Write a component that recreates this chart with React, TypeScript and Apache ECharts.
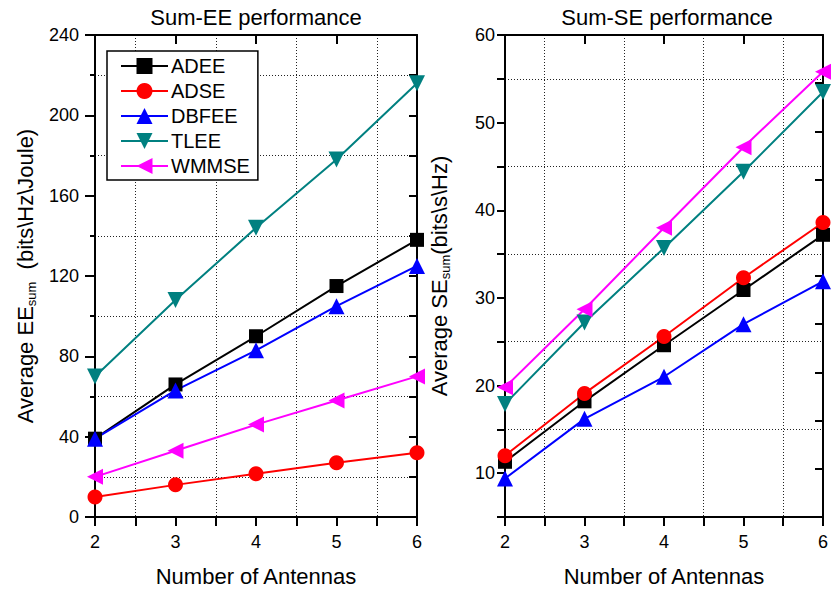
import React, { useEffect, useRef } from "react";
import * as echarts from "echarts";

const antennas = [2, 3, 4, 5, 6];
const seriesNames = ["ADEE", "ADSE", "DBFEE", "TLEE", "WMMSE"];
const seriesColors = ["#000000", "#ff0000", "#0000ff", "#008080", "#ff00ff"];
const seriesSymbols = ["rect", "circle", "triangle", "triangle", "triangle"];
const symbolRotations = [0, 0, 0, 180, 90];
const symbolSizes = [14, 15, 16, 16, 16];

const eeADEE = [39, 66, 90, 115, 138];
const eeADSE = [10, 16, 21.5, 27, 32];
const eeDBFEE = [39, 63, 83, 105, 125];
const eeTLEE = [70, 108, 144, 178, 216];
const eeWMMSE = [20, 33, 46, 58, 70];

const seADEE = [11.3, 18.2, 24.6, 30.9, 37.2];
const seADSE = [12.0, 19.1, 25.6, 32.3, 38.6];
const seDBFEE = [9.4, 16.2, 21, 27, 31.9];
const seTLEE = [17.9, 27.2, 35.7, 44.4, 53.5];
const seWMMSE = [19.8, 28.7, 38, 47.2, 55.8];

const eeTicks = [0, 40, 80, 120, 160, 200, 240];
const seTicks = [10, 20, 30, 40, 50, 60];

const FONT = "'Liberation Sans', Arial, Helvetica, sans-serif";
const GRID_DASH = [1, 2];

export default function App() {
  const ref = useRef<HTMLDivElement>(null);

  useEffect(() => {
    if (!ref.current) return;
    const chart = echarts.init(ref.current, null, { renderer: "svg" });

    const eeData = [eeADEE, eeADSE, eeDBFEE, eeTLEE, eeWMMSE];
    const seData = [seADEE, seADSE, seDBFEE, seTLEE, seWMMSE];

    const mkSeries = (vals: number[][], xi: number, yi: number) =>
      vals.map((arr, i) => ({
        name: seriesNames[i],
        type: "line",
        xAxisIndex: xi,
        yAxisIndex: yi,
        data: antennas.map((a, k) => [a, arr[k]]),
        symbol: seriesSymbols[i],
        symbolSize: symbolSizes[i],
        symbolRotate: symbolRotations[i],
        showAllSymbol: true,
        lineStyle: { color: seriesColors[i], width: 2 },
        itemStyle: { color: seriesColors[i] },
        z: 3,
      }));

    const axisLine = { show: true, onZero: false, lineStyle: { color: "#000", width: 2 } };
    const labelStyle = { color: "#000", fontSize: 18, fontFamily: FONT };

    const bottomX = (gi: number) => ({
      type: "value",
      gridIndex: gi,
      position: "bottom",
      min: 2,
      max: 6,
      interval: 1,
      axisLine,
      axisTick: { show: true, inside: false, length: 9, lineStyle: { color: "#000", width: 2 } },
      minorTick: { show: true, splitNumber: 2, length: 9, lineStyle: { color: "#000", width: 2 } },
      splitLine: { show: false },
      minorSplitLine: { show: true, lineStyle: { color: "#222", width: 1, type: GRID_DASH } },
      axisLabel: { ...labelStyle, margin: 16, showMinLabel: true, showMaxLabel: true },
      name: "Number of Antennas",
      nameLocation: "middle",
      nameGap: 48,
      nameTextStyle: { color: "#000", fontSize: 22, fontFamily: FONT },
    });
    const topX = (gi: number) => ({
      type: "value",
      gridIndex: gi,
      position: "top",
      min: 2,
      max: 6,
      interval: 1,
      axisLine,
      axisTick: { show: true, inside: true, length: 9, lineStyle: { color: "#000", width: 2 } },
      axisLabel: { show: false },
      splitLine: { show: false },
    });

    const option: any = {
      animation: false,
      backgroundColor: "#ffffff",
      textStyle: { fontFamily: FONT },
      grid: [
        { left: 95, top: 35, width: 322, height: 483 },
        { left: 505, top: 35, width: 323, height: 483 },
      ],
      legend: {
        data: seriesNames,
        orient: "vertical",
        left: 107,
        top: 51,
        padding: [5, 8, 4, 13],
        itemGap: 5,
        itemWidth: 47,
        itemHeight: 20,
        borderColor: "#000",
        borderWidth: 1.5,
        backgroundColor: "#fff",
        textStyle: { color: "#000", fontSize: 20, fontFamily: FONT, padding: [0, 0, 0, -2] },
        z: 10,
      },
      xAxis: [bottomX(0), topX(0), bottomX(1), topX(1)],
      yAxis: [
        {
          type: "value",
          gridIndex: 0,
          position: "left",
          min: 0,
          max: 240,
          interval: 40,
          axisLine,
          axisTick: { show: true, inside: false, length: 10, lineStyle: { color: "#000", width: 2 } },
          minorTick: { show: true, splitNumber: 2, length: 5, lineStyle: { color: "#000", width: 2 } },
          splitLine: { show: false },
          minorSplitLine: { show: true, lineStyle: { color: "#222", width: 1, type: GRID_DASH } },
          axisLabel: {
            ...labelStyle,
            margin: 16,
            formatter: (v: number) => (eeTicks.includes(v) ? String(v) : ""),
          },
          name: "{a|Average EE}{s|sum}{a|  (bits\\Hz\\Joule)}",
          nameLocation: "middle",
          nameRotate: 90,
          nameGap: 57,
          nameTextStyle: {
            rich: {
              a: { fontSize: 22, fontFamily: FONT, color: "#000", lineHeight: 26 },
              s: { fontSize: 13, fontFamily: FONT, color: "#000", lineHeight: 26, verticalAlign: "bottom" },
            },
          },
        },
        {
          type: "value",
          gridIndex: 0,
          position: "right",
          min: 0,
          max: 240,
          interval: 20,
          axisLine,
          axisTick: { show: true, inside: true, length: 8, lineStyle: { color: "#000", width: 2 } },
          axisLabel: { show: false },
          splitLine: { show: false },
        },
        {
          type: "value",
          gridIndex: 1,
          position: "left",
          min: 5,
          max: 60,
          interval: 5,
          axisLine,
          axisTick: { show: true, inside: false, length: 8, lineStyle: { color: "#000", width: 2 } },
          splitLine: { show: true, lineStyle: { color: ["#222", "rgba(0,0,0,0)"], width: 1, type: GRID_DASH } },
          axisLabel: {
            ...labelStyle,
            margin: 10,
            formatter: (v: number) => (seTicks.includes(v) ? String(v) : ""),
          },
          name: "{a|Average SE}{s|sum}{a|(bits\\s\\Hz)}",
          nameLocation: "middle",
          nameRotate: 90,
          nameGap: 53,
          nameTextStyle: {
            rich: {
              a: { fontSize: 22, fontFamily: FONT, color: "#000", lineHeight: 26 },
              s: { fontSize: 13, fontFamily: FONT, color: "#000", lineHeight: 26, verticalAlign: "bottom" },
            },
          },
        },
        {
          type: "value",
          gridIndex: 1,
          position: "right",
          min: 0,
          max: 10,
          interval: 1,
          axisLine,
          axisTick: { show: true, inside: true, length: 8, lineStyle: { color: "#000", width: 2 } },
          axisLabel: { show: false },
          splitLine: { show: false },
        },
      ],
      graphic: [
        {
          type: "text",
          x: 256,
          y: 17,
          style: { text: "Sum-EE performance", font: `22px ${FONT}`, fill: "#000", align: "center", verticalAlign: "middle" },
        },
        {
          type: "text",
          x: 667,
          y: 17,
          style: { text: "Sum-SE performance", font: `22px ${FONT}`, fill: "#000", align: "center", verticalAlign: "middle" },
        },
      ],
      series: [...mkSeries(eeData, 0, 0), ...mkSeries(seData, 2, 2)],
    };

    chart.setOption(option);
    return () => chart.dispose();
  }, []);

  return (
    <div
      ref={ref}
      style={{ position: "absolute", left: 0, top: 0, width: 831, height: 592, background: "#fff" }}
    />
  );
}
